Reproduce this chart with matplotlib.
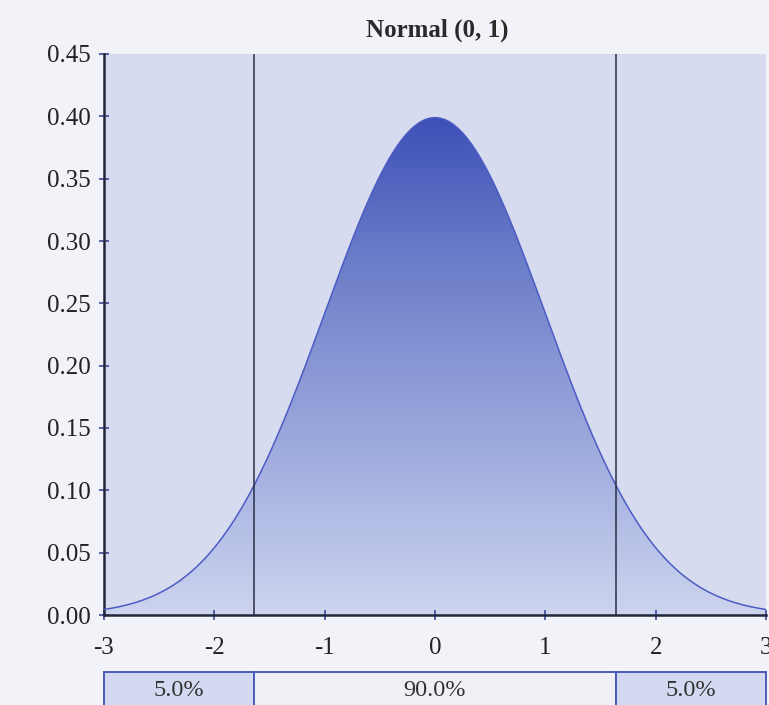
import numpy as np
import matplotlib
matplotlib.use("Agg")
import matplotlib.pyplot as plt
from matplotlib.colors import LinearSegmentedColormap
from matplotlib.patches import Rectangle

# Data
title = "Normal (0, 1)"
mu, sigma = 0.0, 1.0
x_range = (-3, 3)
y_ticks = [0.00, 0.05, 0.10, 0.15, 0.20, 0.25, 0.30, 0.35, 0.40, 0.45]
x_ticks = [-3, -2, -1, 0, 1, 2, 3]
cut_points = [-1.645, 1.645]
region_labels = ["5.0%", "90.0%", "5.0%"]

x = np.linspace(x_range[0], x_range[1], 600)
pdf = np.exp(-0.5 * ((x - mu) / sigma) ** 2) / (sigma * np.sqrt(2 * np.pi))

W, H = 769, 705
fig = plt.figure(figsize=(W / 100, H / 100), dpi=100, facecolor="#f2f3f8")
plt.rcParams["font.family"] = ["Liberation Serif", "DejaVu Serif"]

L, R, T, B = 104, 766, 54, 615
ax = fig.add_axes([L / W, 1 - B / H, (R - L) / W, (B - T) / H])
ax.set_facecolor("#d6dbef")
ax.set_xlim(*x_range)
ax.set_ylim(0, 0.45)

# gradient fill under curve
cmap = LinearSegmentedColormap.from_list(
    "g", [(0.0, "#cdd4ee"), (0.25, "#aab5e2"), (0.72, "#6a7cc8"), (1.0, "#3e50b6")])
grad = np.linspace(0, 1, 256).reshape(-1, 1)
poly = ax.fill_between(x, 0, pdf, color="none")
im = ax.imshow(grad, extent=[x_range[0], x_range[1], 0, pdf.max()], origin="lower",
               aspect="auto", cmap=cmap, zorder=1)
path = poly.get_paths()[0]
im.set_clip_path(path, transform=ax.transData)
ax.plot(x, pdf, color="#4c5cc4", lw=1.1, zorder=3)

for c in cut_points:
    ax.axvline(c, color="#2a2f45", lw=1.1, zorder=4)

for s in ["top", "right"]:
    ax.spines[s].set_visible(False)
for s in ["left", "bottom"]:
    ax.spines[s].set_color("#23263a")
    ax.spines[s].set_linewidth(1.8)

ax.set_xticks(x_ticks)
ax.set_xticklabels([str(t) for t in x_ticks])
ax.set_yticks(y_ticks)
ax.set_yticklabels([f"{t:.2f}" for t in y_ticks])
ax.tick_params(direction="inout", length=7, width=1.2, color="#3a4a9a",
               labelsize=18, labelcolor="#222222")
ax.tick_params(axis="x", pad=12)
ax.tick_params(axis="y", pad=6)

fig.text((L + R) / 2 / W + 0.003, 1 - 30 / H, title, ha="center", va="center",
         fontsize=18, fontweight="bold", color="#2a2a2a")

# bottom table
def xp(v):
    return L + (v - x_range[0]) / (x_range[1] - x_range[0]) * (R - L)

edges = [x_range[0]] + cut_points + [x_range[1]]
fills = ["#d3d9f0", "#eef0f6", "#d3d9f0"]
top_y, bot_y = 672, 712
for i, lab in enumerate(region_labels):
    x0, x1 = xp(edges[i]), xp(edges[i + 1])
    rect = Rectangle((x0 / W, 1 - bot_y / H), (x1 - x0) / W, (bot_y - top_y) / H,
                     transform=fig.transFigure, facecolor=fills[i],
                     edgecolor="#4a5ab8", lw=1.4, clip_on=False)
    fig.add_artist(rect)
    fig.text((x0 + x1) / 2 / W, 1 - 691 / H, lab, ha="center", va="center",
             fontsize=17.5, color="#333333")

fig.savefig("out.png", dpi=100, facecolor=fig.get_facecolor())
